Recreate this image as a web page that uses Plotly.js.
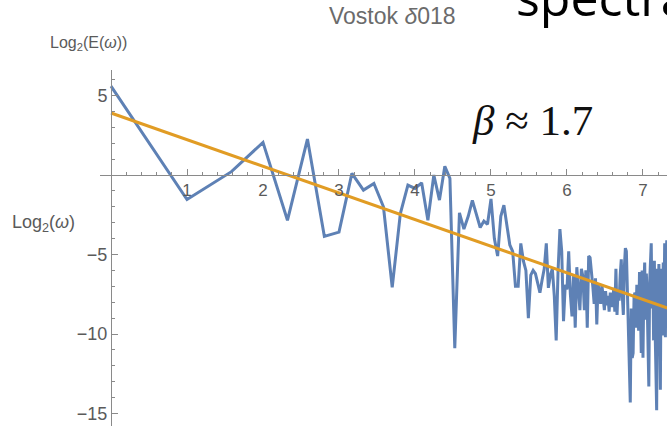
<!DOCTYPE html>
<html>
<head>
<meta charset="utf-8">
<script src="https://cdn.plot.ly/plotly-3.0.1.min.js"></script>
<style>
html,body{margin:0;padding:0;background:#fff;}
#chart{width:667px;height:426px;}
</style>
</head>
<body>
<div id="chart"></div>
<script>
// Log2 spectral energy at integer frequencies omega = 1, 2, 3, ...
const spectrumLog2E = [
  5.59, -1.54, 0.21, 2.05, -2.85, 2.26, -3.86, -3.59, 0.10, -0.95,
  -0.53, -2.00, -7.07, -2.43, -0.63, -0.84, -0.49, -2.85, 0.00, -1.58,
  0.55, -0.21, -10.9, -2.38, -3.40, -2.60, -1.60, -2.50, -3.30, -2.90,
  -3.10, -1.50, -4.00, -5.10, -2.60, -1.90, -3.20, -4.40, -4.80, -7.00,
  -7.00, -4.30, -5.40, -6.00, -9.00, -6.30, -6.00, -6.20, -6.80, -7.40,
  -6.60, -5.90, -4.30, -7.10, -6.30, -5.90, -7.60, -10.4, -6.00, -3.40,
  -4.80, -9.20, -6.90, -7.20, -4.80, -7.50, -8.90, -6.30, -9.60, -5.80,
  -7.20, -8.50, -5.90, -6.40, -8.50, -6.00, -9.60, -5.10, -5.20, -6.40,
  -7.00, -8.10, -6.50, -9.40, -6.80, -7.60, -8.10, -6.90, -7.90, -8.50,
  -7.30, -8.20, -7.60, -8.60, -7.40, -7.90, -8.30, -7.10, -8.60, -5.90,
  -8.80, -7.20, -7.90, -6.30, -5.30, -7.60, -8.80, -5.80, -4.60, -4.80,
  -7.20, -8.50, -11.3, -14.3, -8.40, -11.5, -11.2, -7.60, -7.40, -9.60,
  -6.90, -7.40, -9.80, -6.10, -8.20, -11.2, -6.00, -11.5, -7.00, -5.50,
  -9.10, -6.20, -8.00, -12.7, -13.3, -6.80, -4.90, -4.30, -8.40, -6.00,
  -10.4, -5.40, -9.80, -14.7, -14.8, -5.90, -8.20, -5.60, -9.60, -13.5,
  -5.90, -7.30, -10.1, -5.50, -8.90, -4.30, -10.2, -6.10, -4.10, -9.50,
  -6.00
];
const fitIntercept = 3.90;
const fitSlope = -1.676;   // beta ~ 1.7
const fitXRange = [0, 7.4];
const xTickVals = [1, 2, 3, 4, 5, 6, 7];
const yTickVals = [-15, -10, -5, 5];
const yTickText = ['\u221215', '\u221210', '\u22125', '5'];

const logOmega = spectrumLog2E.map((_, i) => Math.log2(i + 1));
const fitY = fitXRange.map(x => fitIntercept + fitSlope * x);

const xRange = [-0.1447, 7.316];
const yRange = [-15.786, 6.604];
const xZeroFrac = (0 - xRange[0]) / (xRange[1] - xRange[0]);
const yZeroFrac = (0 - yRange[0]) / (yRange[1] - yRange[0]);

const axisCol = '#8a8a8a';
const labCol = '#5a5a5a';

const traces = [
  {x: logOmega, y: spectrumLog2E, mode: 'lines', type: 'scatter',
   line: {color: '#5E81B5', width: 3}, hoverinfo: 'skip'},
  {x: fitXRange, y: fitY, mode: 'lines', type: 'scatter',
   line: {color: '#E19C24', width: 3}, hoverinfo: 'skip'}
];

const layout = {
  width: 667, height: 426,
  margin: {l: 100, r: 0, t: 70, b: 0, pad: 0},
  paper_bgcolor: '#fff', plot_bgcolor: '#fff',
  showlegend: false,
  font: {family: 'Liberation Sans, Arial, sans-serif', color: labCol, size: 17},
  xaxis: {
    range: xRange, anchor: 'free', position: yZeroFrac,
    showgrid: false, zeroline: false, showline: true, linecolor: axisCol, linewidth: 1,
    ticks: 'inside', ticklen: 6, tickcolor: axisCol, tickwidth: 1,
    tickvals: xTickVals, tickfont: {size: 17, color: labCol},
    minor: {dtick: 0.2, tick0: 0, ticks: 'inside', ticklen: 3.5, tickcolor: axisCol, showgrid: false}
  },
  yaxis: {
    range: yRange, anchor: 'free', position: xZeroFrac,
    showgrid: false, zeroline: false, showline: true, linecolor: axisCol, linewidth: 1,
    ticks: 'inside', ticklen: 6, tickcolor: axisCol, tickwidth: 1,
    tickvals: yTickVals, ticktext: yTickText, tickfont: {size: 18, color: labCol},
    minor: {dtick: 1, tick0: 0, ticks: 'inside', ticklen: 3.5, tickcolor: axisCol, showgrid: false}
  },
  annotations: [
    {text: 'Vostok <i>\u03B4</i>018', xref: 'paper', yref: 'paper',
     x: (392 - 100) / 567, y: 1 + (70 - 16) / 356, xanchor: 'center', yanchor: 'middle',
     showarrow: false, font: {size: 23, color: '#6b6b6b'}},
    {text: 'Log<sub>2</sub>(E(<i>\u03C9</i>))', xref: 'paper', yref: 'paper',
     x: (48 - 100) / 567, y: 1 + (70 - 44) / 356, xanchor: 'left', yanchor: 'middle',
     showarrow: false, font: {size: 16, color: labCol}},
    {text: 'Log<sub>2</sub>(<i>\u03C9</i>)', xref: 'paper', yref: 'paper',
     x: (10 - 100) / 567, y: (426 - 223) / 356, xanchor: 'left', yanchor: 'middle',
     showarrow: false, font: {size: 18, color: labCol}},
    {text: '<i>\u03B2</i> \u2248 1.7', xref: 'paper', yref: 'paper',
     x: (470 - 100) / 567, y: (426 - 121) / 356, xanchor: 'left', yanchor: 'middle',
     showarrow: false, font: {family: 'Liberation Serif, Times New Roman, serif', size: 43, color: '#111'}},
    {text: 'spectra', xref: 'paper', yref: 'paper',
     x: (514 - 100) / 567, y: 1 + (70 - 33) / 356, xanchor: 'left', yanchor: 'bottom',
     showarrow: false, font: {family: 'Open Sans, DejaVu Sans, sans-serif', size: 50, color: '#000'}}
  ]
};

Plotly.newPlot('chart', traces, layout, {staticPlot: true, displayModeBar: false});
</script>
</body>
</html>
